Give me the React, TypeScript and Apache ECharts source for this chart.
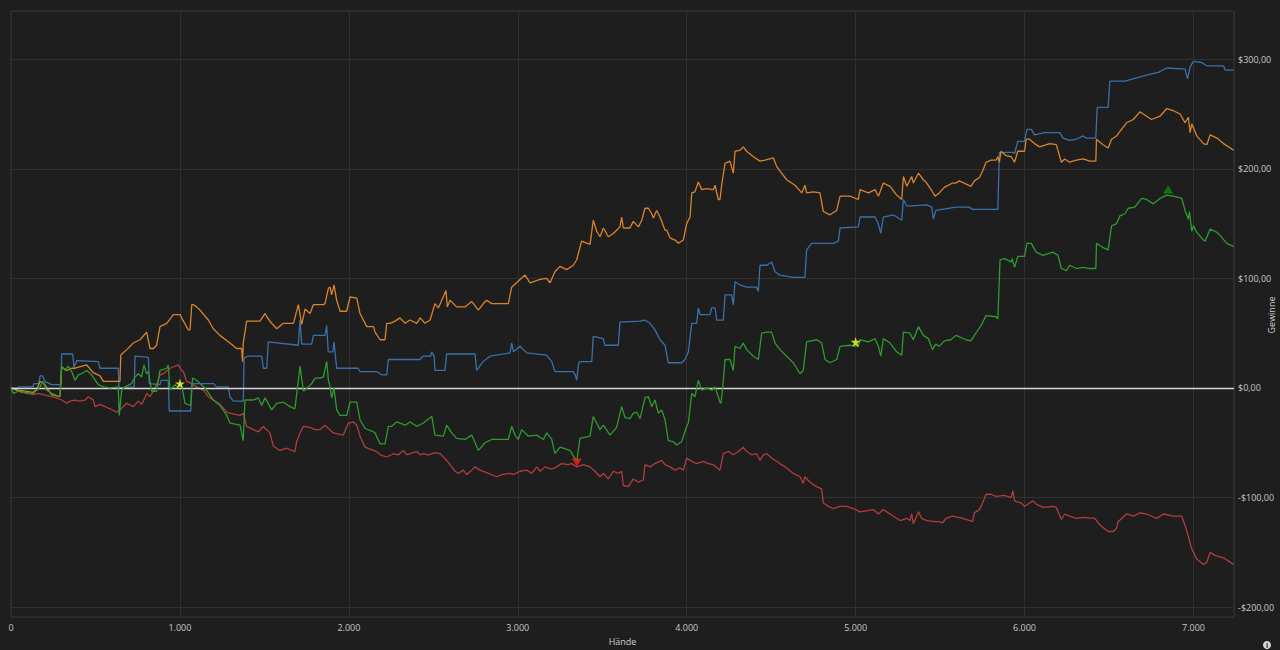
import React, { useEffect, useRef } from "react";
import * as echarts from "echarts";

// hands (x) / profit in $ (y)
const blueLine: [number, number][] = [[0,0],[40,0],[45,1],[130,1],[135,4],[165,4],[172,11],[188,11],[200,6],[240,3],[295,3],[300,31],[365,31],[373,19],[389,25],[517,24],[527,18],[635,18],[639,0],[730,1],[734,29],[813,28],[819,4],[882,3],[890,7],[931,7],[937,-21],[1064,-21],[1070,4],[1198,4],[1218,1],[1287,1],[1296,-8],[1316,-12],[1375,-12],[1380,27],[1400,29],[1484,29],[1494,18],[1514,18],[1523,42],[1701,39],[1711,62],[1721,40],[1780,40],[1790,48],[1859,48],[1869,57],[1878,33],[1905,33],[1912,42],[1928,18],[2054,18],[2066,15],[2165,15],[2195,12],[2224,12],[2234,26],[2421,26],[2439,29],[2485,29],[2490,33],[2505,29],[2510,16],[2569,16],[2579,31],[2747,31],[2757,16],[2794,24],[2836,29],[2954,32],[2964,41],[2975,33],[3013,38],[3053,32],[3171,30],[3201,24],[3220,15],[3327,15],[3340,12],[3349,7],[3360,22],[3368,24],[3438,24],[3447,47],[3506,45],[3516,39],[3595,39],[3605,60],[3724,61],[3753,62],[3783,59],[3812,53],[3842,44],[3872,39],[3891,23],[3970,23],[3990,26],[4010,33],[4030,59],[4059,59],[4069,73],[4079,67],[4138,67],[4148,73],[4168,73],[4178,62],[4217,62],[4227,85],[4266,85],[4276,76],[4286,97],[4316,94],[4355,92],[4414,92],[4424,88],[4434,112],[4474,112],[4503,115],[4523,106],[4552,103],[4631,101],[4700,101],[4710,126],[4740,132],[4868,132],[4898,134],[4908,146],[5016,147],[5026,156],[5115,156],[5134,150],[5149,141],[5164,156],[5223,158],[5273,153],[5283,172],[5303,166],[5421,167],[5451,165],[5460,154],[5475,162],[5594,165],[5673,165],[5693,163],[5842,163],[5851,215],[5931,215],[5941,214],[5960,225],[6000,225],[6014,236],[6040,236],[6059,231],[6119,233],[6208,233],[6228,228],[6267,226],[6307,227],[6347,230],[6366,228],[6422,228],[6430,256],[6495,256],[6505,280],[6594,280],[6663,283],[6733,286],[6792,288],[6842,292],[6950,291],[6965,282],[6980,293],[7000,298],[7049,297],[7079,294],[7178,294],[7188,290],[7238,290]];

const orangeLine: [number, number][] = [[0,0],[40,-2],[130,-4],[150,-2],[172,6],[190,5],[240,-6],[290,-8],[300,19],[330,16],[359,18],[379,18],[448,21],[487,14],[527,11],[547,6],[645,6],[650,30],[685,35],[724,41],[764,44],[803,51],[823,36],[843,36],[862,39],[882,56],[922,59],[961,67],[1001,67],[1010,64],[1050,53],[1060,53],[1070,76],[1080,76],[1099,74],[1119,71],[1168,62],[1198,54],[1237,48],[1296,41],[1336,36],[1365,36],[1371,24],[1375,41],[1395,61],[1474,61],[1504,68],[1514,65],[1543,59],[1573,54],[1612,59],[1672,59],[1701,76],[1721,58],[1741,72],[1770,68],[1790,76],[1849,76],[1859,77],[1879,91],[1889,92],[1898,85],[1912,94],[1928,80],[1948,70],[1987,70],[2007,83],[2047,82],[2066,68],[2086,62],[2106,56],[2146,56],[2155,51],[2185,44],[2214,44],[2224,59],[2244,59],[2273,61],[2303,64],[2333,59],[2362,62],[2402,59],[2422,64],[2451,59],[2481,62],[2510,77],[2530,73],[2575,89],[2583,74],[2599,80],[2638,74],[2688,74],[2727,79],[2767,71],[2796,77],[2816,80],[2846,77],[2944,77],[2964,92],[3013,99],[3043,103],[3073,96],[3132,99],[3171,100],[3191,96],[3220,106],[3250,111],[3290,108],[3329,112],[3349,117],[3378,134],[3428,131],[3447,153],[3467,143],[3487,138],[3507,146],[3536,138],[3566,141],[3605,147],[3615,156],[3625,146],[3664,146],[3684,152],[3714,147],[3734,153],[3753,164],[3773,164],[3793,159],[3803,155],[3822,162],[3842,156],[3872,144],[3882,144],[3901,137],[3931,135],[3951,132],[3980,135],[4000,150],[4020,156],[4030,178],[4049,179],[4069,188],[4089,181],[4118,182],[4158,181],[4168,185],[4187,172],[4197,172],[4207,185],[4227,205],[4256,207],[4276,196],[4286,216],[4316,217],[4335,220],[4355,216],[4395,211],[4434,207],[4464,208],[4513,210],[4533,202],[4562,196],[4592,190],[4641,185],[4681,178],[4700,185],[4710,178],[4750,179],[4789,178],[4809,161],[4848,158],[4888,162],[4908,175],[4967,175],[5016,172],[5026,181],[5076,178],[5115,181],[5135,175],[5164,187],[5204,184],[5243,176],[5273,172],[5283,193],[5303,184],[5332,193],[5342,187],[5372,196],[5401,190],[5421,187],[5451,180],[5470,175],[5495,178],[5525,183],[5574,187],[5594,187],[5614,189],[5683,184],[5703,189],[5733,192],[5752,198],[5772,206],[5802,208],[5832,208],[5842,211],[5851,206],[5861,216],[5891,212],[5921,211],[5941,206],[5960,216],[6000,216],[6010,227],[6030,227],[6059,223],[6089,220],[6149,223],[6188,222],[6218,206],[6238,209],[6267,206],[6307,208],[6347,209],[6386,207],[6422,207],[6426,227],[6465,222],[6495,219],[6515,227],[6545,230],[6574,236],[6604,242],[6644,245],[6683,252],[6723,248],[6752,245],[6802,248],[6842,255],[6881,253],[6921,250],[6950,242],[6970,247],[6980,233],[6990,241],[7020,230],[7059,223],[7079,222],[7099,231],[7139,228],[7178,223],[7238,217]];

const greenLine: [number, number][] = [[0,0],[14,-5],[43,-3],[132,-5],[172,1],[188,6],[211,-2],[241,-5],[290,-8],[300,20],[320,16],[339,20],[359,15],[379,7],[399,12],[418,13],[448,16],[477,12],[517,3],[547,1],[586,0],[635,1],[641,-25],[655,-2],[675,1],[714,4],[734,10],[754,13],[773,10],[787,21],[803,13],[813,15],[833,-3],[862,-3],[882,16],[922,18],[931,21],[941,-2],[971,3],[990,0],[1000,4],[1010,3],[1030,-14],[1064,-16],[1075,9],[1099,7],[1148,0],[1198,-11],[1237,-16],[1277,-25],[1296,-32],[1356,-34],[1375,-48],[1385,-11],[1435,-11],[1464,-9],[1484,-16],[1504,-9],[1543,-20],[1573,-14],[1612,-13],[1652,-17],[1681,-19],[1711,20],[1731,-3],[1760,1],[1780,4],[1800,9],[1829,9],[1849,10],[1869,24],[1879,7],[1889,1],[1898,-9],[1912,0],[1928,-20],[1948,-25],[1987,-25],[2007,-13],[2047,-13],[2066,-29],[2096,-37],[2146,-40],[2155,-41],[2185,-51],[2214,-51],[2234,-35],[2254,-35],[2283,-31],[2333,-34],[2362,-31],[2402,-35],[2441,-32],[2491,-26],[2510,-43],[2560,-44],[2579,-34],[2609,-41],[2638,-46],[2688,-47],[2727,-43],[2747,-50],[2767,-57],[2806,-50],[2846,-47],[2944,-47],[2964,-35],[2984,-43],[3003,-47],[3023,-38],[3063,-44],[3112,-43],[3152,-47],[3171,-41],[3201,-47],[3220,-60],[3250,-54],[3309,-57],[3349,-67],[3368,-46],[3428,-44],[3447,-26],[3467,-32],[3487,-38],[3507,-34],[3546,-43],[3585,-36],[3615,-17],[3635,-27],[3664,-28],[3684,-23],[3704,-22],[3724,-28],[3753,-9],[3773,-8],[3793,-17],[3812,-11],[3832,-23],[3852,-20],[3872,-29],[3891,-48],[3921,-49],[3941,-52],[3970,-49],[4000,-35],[4010,-32],[4030,-5],[4049,-8],[4069,7],[4089,-2],[4118,0],[4148,-2],[4168,1],[4197,-13],[4203,-14],[4213,0],[4227,26],[4256,26],[4276,16],[4286,38],[4316,36],[4335,41],[4355,35],[4395,29],[4424,26],[4444,50],[4474,51],[4503,51],[4523,41],[4552,35],[4592,29],[4631,23],[4671,13],[4690,16],[4710,42],[4769,44],[4799,41],[4819,26],[4848,23],[4888,26],[4908,38],[4967,39],[5016,38],[5026,44],[5076,42],[5115,45],[5135,38],[5149,29],[5164,45],[5204,41],[5243,33],[5273,30],[5283,51],[5322,50],[5342,44],[5372,56],[5401,48],[5431,45],[5455,35],[5475,40],[5495,38],[5525,43],[5564,44],[5594,48],[5653,44],[5683,43],[5703,48],[5743,57],[5772,66],[5832,65],[5842,63],[5855,117],[5881,118],[5921,115],[5927,118],[5941,110],[5960,120],[6000,120],[6014,132],[6040,132],[6069,124],[6109,121],[6168,124],[6198,121],[6218,109],[6248,107],[6267,112],[6307,109],[6347,110],[6386,109],[6422,109],[6426,132],[6465,128],[6495,126],[6515,148],[6545,150],[6564,157],[6594,159],[6614,164],[6653,165],[6693,173],[6723,172],[6762,168],[6802,173],[6842,176],[6881,175],[6931,173],[6950,162],[6970,154],[6976,161],[6990,143],[7000,148],[7020,142],[7059,135],[7069,134],[7099,145],[7139,142],[7158,139],[7198,132],[7238,129]];

const redLine: [number, number][] = [[0,0],[43,-3],[93,-5],[132,-6],[162,-5],[191,-6],[241,-8],[270,-9],[300,-11],[330,-14],[349,-12],[379,-11],[409,-12],[438,-11],[458,-8],[487,-11],[497,-17],[527,-15],[556,-17],[586,-19],[626,-22],[645,-20],[685,-14],[724,-17],[754,-12],[773,-15],[793,-9],[803,-5],[823,-8],[862,3],[882,12],[902,13],[941,18],[990,21],[1010,16],[1020,15],[1040,6],[1070,4],[1099,1],[1139,-2],[1168,-8],[1198,-11],[1237,-15],[1277,-22],[1296,-23],[1356,-25],[1375,-23],[1395,-35],[1435,-38],[1464,-40],[1494,-35],[1504,-37],[1514,-38],[1533,-41],[1553,-53],[1592,-57],[1632,-55],[1681,-58],[1691,-49],[1711,-41],[1731,-35],[1770,-36],[1800,-38],[1829,-38],[1859,-34],[1879,-37],[1908,-41],[1967,-43],[1997,-32],[2027,-31],[2047,-34],[2066,-44],[2096,-54],[2146,-57],[2165,-58],[2185,-61],[2224,-63],[2264,-60],[2293,-61],[2323,-57],[2343,-61],[2362,-60],[2402,-58],[2422,-61],[2441,-60],[2471,-61],[2510,-59],[2540,-60],[2560,-63],[2579,-66],[2609,-72],[2629,-76],[2648,-78],[2678,-75],[2698,-79],[2727,-75],[2747,-72],[2777,-75],[2826,-78],[2875,-81],[2905,-79],[2954,-78],[2974,-79],[3013,-76],[3053,-75],[3083,-78],[3112,-72],[3132,-76],[3161,-72],[3201,-74],[3230,-72],[3260,-69],[3299,-70],[3319,-69],[3349,-72],[3388,-70],[3428,-72],[3457,-76],[3487,-81],[3507,-78],[3536,-83],[3566,-76],[3595,-78],[3615,-76],[3625,-89],[3654,-90],[3684,-83],[3714,-86],[3743,-84],[3753,-70],[3783,-72],[3812,-69],[3852,-66],[3872,-70],[3901,-72],[3931,-75],[3961,-73],[3980,-75],[4000,-64],[4030,-67],[4059,-69],[4098,-67],[4128,-69],[4158,-70],[4197,-75],[4217,-60],[4247,-58],[4276,-61],[4306,-58],[4335,-54],[4355,-58],[4385,-61],[4414,-60],[4434,-66],[4454,-61],[4474,-60],[4503,-64],[4552,-69],[4592,-73],[4631,-78],[4671,-81],[4690,-87],[4700,-81],[4730,-86],[4769,-90],[4799,-92],[4809,-105],[4838,-108],[4868,-110],[4908,-108],[4947,-108],[4987,-110],[5026,-113],[5105,-111],[5135,-115],[5164,-111],[5204,-115],[5233,-118],[5263,-121],[5303,-119],[5322,-121],[5332,-115],[5342,-124],[5372,-113],[5391,-119],[5421,-121],[5470,-122],[5495,-122],[5515,-123],[5535,-119],[5574,-117],[5634,-119],[5693,-122],[5703,-114],[5733,-111],[5752,-105],[5772,-97],[5802,-97],[5832,-99],[5881,-98],[5921,-100],[5931,-94],[5941,-103],[5980,-105],[6000,-108],[6030,-105],[6050,-103],[6069,-106],[6109,-109],[6168,-108],[6188,-109],[6218,-120],[6238,-115],[6267,-117],[6307,-119],[6347,-118],[6416,-119],[6446,-125],[6495,-131],[6525,-131],[6545,-128],[6554,-122],[6604,-115],[6644,-117],[6683,-114],[6723,-115],[6782,-119],[6822,-115],[6881,-117],[6931,-117],[6960,-130],[6990,-147],[7020,-156],[7059,-161],[7079,-159],[7099,-150],[7129,-153],[7178,-155],[7238,-161]];

const starMarks: [number, number][] = [[1000, 4], [5000, 42]];
const maxMarks: [number, number][] = [[6850, 181]];
const minMarks: [number, number][] = [[3350, -68]];

const xMax = 7240;
const yMin = -209;
const yMax = 344;

const STAR = "path://M50,0 L61,35 L98,35 L68,57 L79,91 L50,70 L21,91 L32,57 L2,35 L39,35 Z";

const fmtX = (v: number) => String(v).replace(/\B(?=(\d{3})+(?!\d))/g, ".");
const fmtY = (v: number) => {
  if (Math.abs(v % 100) > 0.001) return "";
  return (v < 0 ? "-" : "") + "$" + Math.abs(v).toFixed(2).replace(".", ",");
};

const FONT = "'Open Sans', 'Noto Sans', sans-serif";

function line(name: string, data: [number, number][], color: string, z: number) {
  return {
    name,
    type: "line",
    data,
    showSymbol: false,
    symbol: "none",
    z,
    lineStyle: { color, width: 1.3 },
    itemStyle: { color },
  };
}

export default function App() {
  const ref = useRef<HTMLDivElement>(null);
  useEffect(() => {
    document.body.style.margin = "0";
    document.body.style.background = "#1e1e1e";
    const chart = echarts.init(ref.current!, undefined, { renderer: "svg" });
    chart.setOption({
      animation: false,
      backgroundColor: "#1e1e1e",
      textStyle: { fontFamily: FONT },
      grid: {
        left: 11,
        right: 46,
        top: 11,
        bottom: 33,
        containLabel: false,
        outerBoundsMode: "none",
        show: true,
        borderColor: "#353535",
        borderWidth: 1,
      },
      xAxis: {
        type: "value",
        min: 0,
        max: xMax,
        interval: 1000,
        name: "Hände",
        nameLocation: "middle",
        nameGap: 19,
        nameTextStyle: { color: "#cfcfcf", fontSize: 9, fontFamily: FONT },
        axisLine: { show: false },
        axisTick: { show: false },
        axisLabel: {
          color: "#c8c8c8",
          fontSize: 9,
          margin: 6,
          showMaxLabel: false,
          formatter: (v: number) => (v % 1000 === 0 ? fmtX(v) : ""),
          fontFamily: FONT,
        },
        splitLine: { show: true, lineStyle: { color: "#303030", width: 1 } },
      },
      yAxis: {
        type: "value",
        position: "right",
        min: yMin,
        max: yMax,
        splitNumber: 5,
        axisLine: { show: false },
        axisTick: { show: false },
        axisLabel: {
          color: "#c8c8c8",
          fontSize: 9,
          margin: 4,
          showMinLabel: false,
          showMaxLabel: false,
          formatter: fmtY,
          fontFamily: FONT,
        },
        splitLine: { show: true, lineStyle: { color: "#303030", width: 1 } },
      },
      series: [
        line("Rot", redLine, "#b03d3d", 2),
        line("Blau", blueLine, "#3a70a9", 3),
        line("Orange", orangeLine, "#d9832c", 4),
        line("Grün", greenLine, "#2e9b2e", 5),
        {
          name: "Null",
          type: "line",
          data: [],
          z: 6,
          markLine: {
            silent: true,
            symbol: ["none", "none"],
            label: { show: false },
            lineStyle: { color: "#d6d6d6", width: 1.4, type: "solid" },
            data: [{ yAxis: 0 }],
          },
        },
        {
          name: "Stern",
          type: "scatter",
          data: starMarks,
          symbol: STAR,
          symbolSize: 10,
          z: 8,
          itemStyle: { color: "#ffff2e" },
        },
        {
          name: "Max",
          type: "scatter",
          data: maxMarks,
          symbol: "triangle",
          symbolSize: [10, 8],
          z: 8,
          itemStyle: { color: "#0c8a0c" },
        },
        {
          name: "Min",
          type: "scatter",
          data: minMarks,
          symbol: "triangle",
          symbolRotate: 180,
          symbolSize: [10, 8],
          z: 8,
          itemStyle: { color: "#ff1a1a" },
        },
      ],
      graphic: [
        {
          type: "text",
          x: 1271,
          y: 315,
          rotation: Math.PI / 2,
          style: { text: "Gewinne", fill: "#cfcfcf", fontSize: 9, align: "center", verticalAlign: "middle", fontFamily: FONT },
        },
        { type: "circle", shape: { cx: 1267, cy: 645, r: 4 }, style: { fill: "#d8d8d8" } },
        {
          type: "text",
          x: 1267,
          y: 645,
          style: { text: "i", fill: "#1e1e1e", fontSize: 7, fontWeight: "bold", align: "center", verticalAlign: "middle", fontFamily: FONT },
        },
      ],
    });
    return () => chart.dispose();
  }, []);
  return <div ref={ref} style={{ width: 1280, height: 650 }} />;
}
